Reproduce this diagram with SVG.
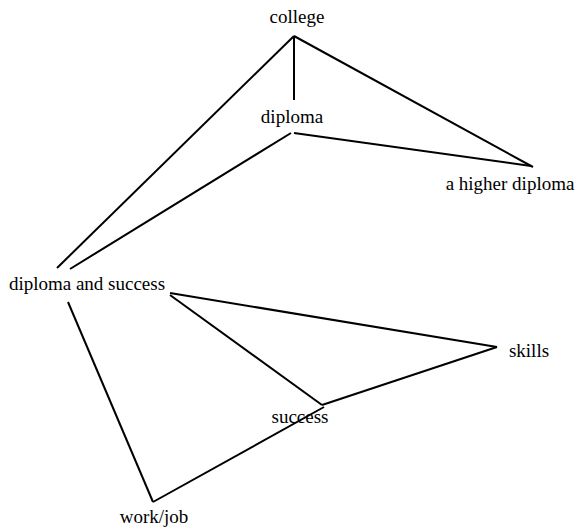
<svg xmlns="http://www.w3.org/2000/svg" width="580" height="529" viewBox="0 0 580 529">
<style>
text{font-family:"Liberation Serif","Times New Roman",serif;font-size:19px;fill:#000;text-anchor:middle}
.e{stroke:#000;stroke-width:2;fill:none}
</style>
<rect width="580" height="529" fill="#fff"/>
<g id="connectors">
<line class="e" x1="294" y1="36" x2="294" y2="100"/>
<line class="e" x1="294" y1="36" x2="57" y2="268"/>
<line class="e" x1="294" y1="36" x2="533" y2="167"/>
<line class="e" x1="291" y1="133" x2="70" y2="269"/>
<line class="e" x1="294" y1="133" x2="531" y2="166"/>
<line class="e" x1="170" y1="293" x2="497" y2="347"/>
<line class="e" x1="170" y1="295" x2="322" y2="405"/>
<line class="e" x1="497" y1="347" x2="322" y2="405"/>
<line class="e" x1="68" y1="302" x2="153" y2="502"/>
<line class="e" x1="153" y1="502" x2="324" y2="407"/>
</g>
<g id="college"><text x="297" y="23">college</text></g>
<g id="diploma"><text x="292" y="123">diploma</text></g>
<g id="higher"><text x="510" y="190">a higher diploma</text></g>
<g id="dipsuccess"><text x="87" y="290">diploma and success</text></g>
<g id="skills"><text x="529" y="357">skills</text></g>
<g id="success"><text x="300" y="423">success</text></g>
<g id="workjob"><text x="154" y="523">work/job</text></g>
</svg>
